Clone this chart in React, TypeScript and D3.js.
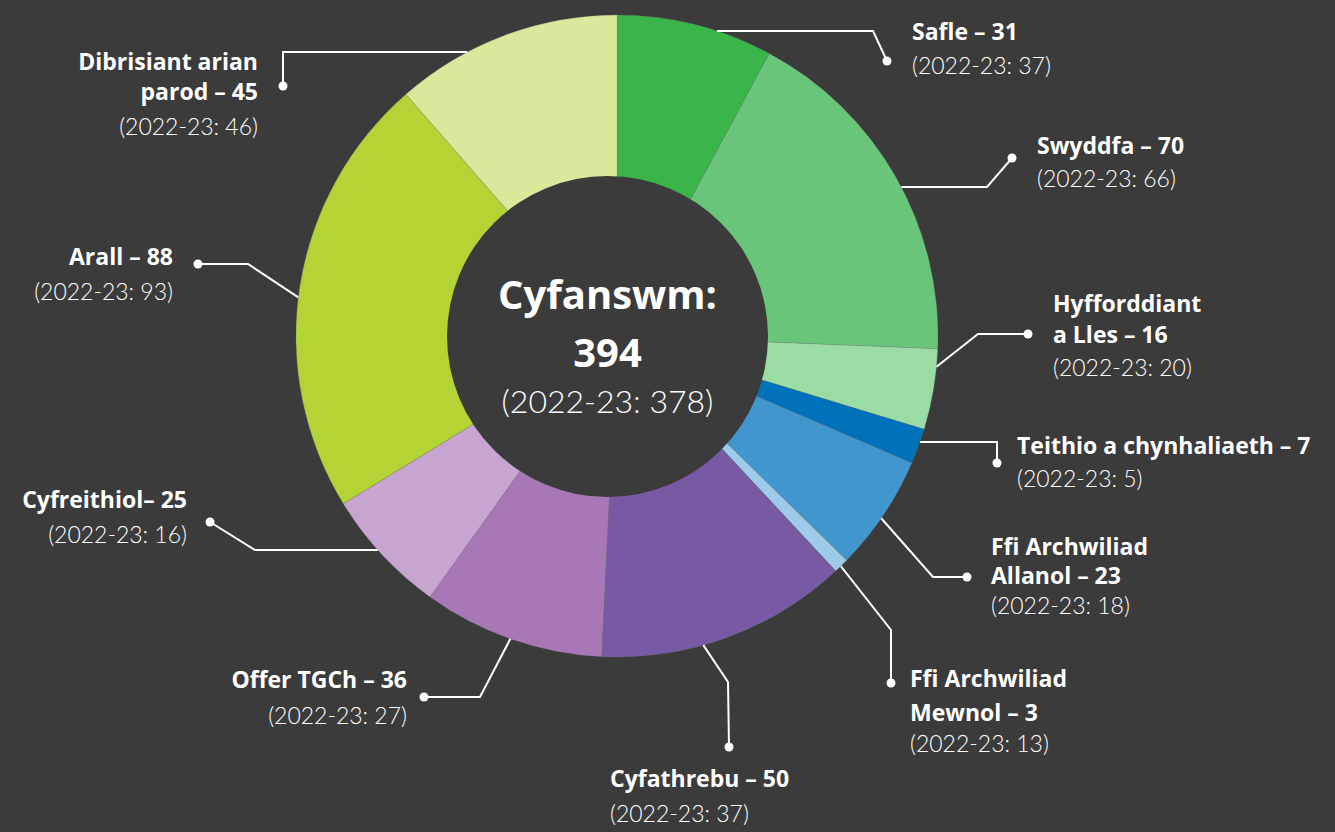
import React from "react";
import * as d3 from "d3";

const categories = [
  "Safle",
  "Swyddfa",
  "Hyfforddiant\na Lles",
  "Teithio a chynhaliaeth",
  "Ffi Archwiliad\nAllanol",
  "Ffi Archwiliad\nMewnol",
  "Cyfathrebu",
  "Offer TGCh",
  "Cyfreithiol",
  "Arall",
  "Dibrisiant arian\nparod",
];
const separators = [" – ", " – ", " – ", " – ", " – ", " – ", " – ", " – ", "– ", " – ", " – "];
const values2324 = [31, 70, 16, 7, 23, 3, 50, 36, 25, 88, 45];
const values2223 = [37, 66, 20, 5, 18, 13, 37, 27, 16, 93, 46];
const colors = [
  "#39b54a",
  "#69c579",
  "#9bdba4",
  "#0072bc",
  "#4196ce",
  "#9dcbea",
  "#7859a3",
  "#a878b6",
  "#c8a5d0",
  "#b4d335",
  "#d9e99b",
];
const prevYearLabel = "2022-23";
const totalLabel = "Cyfanswm:";

// layout (positions only)
type Lay = {
  x: number;
  anchor: "start" | "end";
  lines: number[];
  sub: number;
  horizontal?: boolean;
  angle?: number;
  pts: [number, number][];
};
const layout: Lay[] = [
  { x: 912, anchor: "start", lines: [40], sub: 74, horizontal: true, pts: [[873, 31], [887, 61]] },
  { x: 1037, anchor: "start", lines: [154], sub: 187, horizontal: true, pts: [[987, 187], [1012, 158]] },
  { x: 1053, anchor: "start", lines: [312, 343], sub: 376, angle: 95.5, pts: [[978, 334], [1028, 334]] },
  { x: 1017, anchor: "start", lines: [454], sub: 487, horizontal: true, pts: [[997, 442], [997, 463]] },
  { x: 991, anchor: "start", lines: [555, 584], sub: 614, angle: 124.6, pts: [[933, 577], [967, 577]] },
  { x: 910, anchor: "start", lines: [687, 721], sub: 752, angle: 135.8, pts: [[891, 630], [891, 683]] },
  { x: 610, anchor: "start", lines: [787], sub: 822, angle: 164.4, pts: [[728, 682], [729, 747]] },
  { x: 407, anchor: "end", lines: [688], sub: 724, angle: 199.4, pts: [[480, 697], [424, 697]] },
  { x: 187, anchor: "end", lines: [508], sub: 543, horizontal: true, pts: [[255, 550], [210, 522]] },
  { x: 173, anchor: "end", lines: [265], sub: 300, angle: 276.9, pts: [[248, 264], [198, 264]] },
  { x: 258, anchor: "end", lines: [70, 100], sub: 135, horizontal: true, pts: [[283, 52], [283, 86]] },
];

const W = 1335;
const H = 832;
const BG = "#3b3b3b";
const CX = 617;
const CY = 336;
const R = 321;
const HOLE_CX = 607.5;
const HOLE_CY = 336.5;
const HOLE_R = 160.5;
const BOLD_FONT = "'Open Sans', Lato, sans-serif";
const LIGHT_FONT = "Lato, 'Open Sans', sans-serif";

export default function App() {
  const data = categories.map((c, i) => ({ c, v: values2324[i], i }));
  const pie = d3.pie<any>().value((d) => d.v).sort(null).startAngle(0).endAngle(2 * Math.PI);
  const arcs = pie(data);
  const arcGen = d3.arc<any>().innerRadius(0).outerRadius(R);
  const total = d3.sum(values2324);
  const prevTotal = d3.sum(values2223);

  const startPoint = (l: Lay): [number, number] => {
    if (l.horizontal) {
      const y = l.pts[0][1];
      const dy = y - CY;
      const dx = Math.sqrt(Math.max(0, R * R - dy * dy));
      const side = l.pts[0][0] > CX ? 1 : -1;
      return [CX + side * dx, y];
    }
    const a = ((l.angle as number) * Math.PI) / 180;
    return [CX + R * Math.sin(a), CY - R * Math.cos(a)];
  };

  return (
    <svg
      width={W}
      height={H}
      style={{ position: "absolute", left: 0, top: 0, background: BG }}
    >
      <rect x={0} y={0} width={W} height={H} fill={BG} />
      <g transform={`translate(${CX},${CY})`}>
        {arcs.map((a, i) => (
          <path key={i} d={arcGen(a) as string} fill={colors[i]} stroke="rgba(120,120,120,0.35)" strokeWidth={0.7} />
        ))}
      </g>
      <circle cx={HOLE_CX} cy={HOLE_CY} r={HOLE_R} fill={BG} />
      {/* centre */}
      <text x={HOLE_CX} y={309} textAnchor="middle" fill="#fff" fontFamily={BOLD_FONT} fontWeight={700} fontSize={40}>
        {totalLabel}
      </text>
      <text x={HOLE_CX} y={367} textAnchor="middle" fill="#fff" fontFamily={BOLD_FONT} fontWeight={700} fontSize={40}>
        {total}
      </text>
      <text x={HOLE_CX} y={413} textAnchor="middle" fill="#fff" fontFamily={LIGHT_FONT} fontWeight={300} fontSize={32}>
        {`(${prevYearLabel}: ${prevTotal})`}
      </text>
      {/* leaders */}
      {layout.map((l, i) => {
        const s = startPoint(l);
        const pts = [s, ...l.pts];
        const line = d3.line()(pts as [number, number][]) as string;
        const dot = l.pts[l.pts.length - 1];
        return (
          <g key={`l${i}`}>
            <path d={line} fill="none" stroke="#fff" strokeWidth={2} />
            <circle cx={dot[0]} cy={dot[1]} r={4.5} fill="#fff" />
          </g>
        );
      })}
      {/* labels */}
      {layout.map((l, i) => {
        const nameLines = categories[i].split("\n");
        const last = nameLines.length - 1;
        return (
          <g key={`t${i}`} fill="#fff">
            {nameLines.map((n, j) => (
              <text key={j} x={l.x} y={l.lines[j]} textAnchor={l.anchor} fontFamily={BOLD_FONT} fontWeight={700} fontSize={23}>
                {j === last ? `${n}${separators[i]}${values2324[i]}` : n}
              </text>
            ))}
            <text x={l.x} y={l.sub} textAnchor={l.anchor} fontFamily={LIGHT_FONT} fontWeight={300} fontSize={23}>
              {`(${prevYearLabel}: ${values2223[i]})`}
            </text>
          </g>
        );
      })}
    </svg>
  );
}
